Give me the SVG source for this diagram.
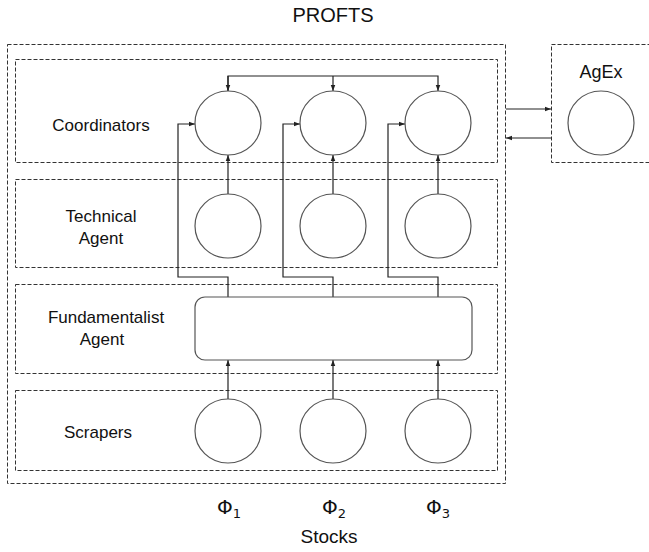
<svg xmlns="http://www.w3.org/2000/svg" width="649" height="552" viewBox="0 0 649 552">
  <style>
    .frame { fill: none; stroke: #333; stroke-width: 1; stroke-dasharray: 4 2; }
    .node { fill: #fff; stroke: #555; stroke-width: 1.2; }
    .wire { fill: none; stroke: #222; stroke-width: 1.2; }
    .lbl { font-family: "Liberation Sans", Arial, sans-serif; font-size: 17px; fill: #111; text-anchor: middle; }
    .title { font-size: 20px; }
    .phi { font-family: "DejaVu Sans", "Liberation Sans", sans-serif; font-size: 20px; }
  </style>
  <defs>
    <marker id="arrow" viewBox="0 0 8 8" refX="8" refY="4" markerWidth="6" markerHeight="6" orient="auto" markerUnits="userSpaceOnUse">
      <path d="M0,1 L8,4 L0,7 z" fill="#222"/>
    </marker>
  </defs>
  <rect width="649" height="552" fill="#fff"/>

  <!-- system frame and layer bands -->
  <g id="frames">
    <rect class="frame" x="7.5" y="44.5" width="498" height="439"/>
    <rect class="frame" x="15.5" y="59.5" width="482" height="103"/>
    <rect class="frame" x="15.5" y="179.5" width="482" height="88"/>
    <rect class="frame" x="15.5" y="284.5" width="482" height="89"/>
    <rect class="frame" x="15.5" y="390.5" width="482" height="80"/>
    <rect class="frame" x="551.5" y="44.5" width="110" height="118"/>
  </g>

  <g id="labels">
    <text class="lbl title" x="333" y="22">PROFTS</text>
    <text class="lbl" x="101" y="131">Coordinators</text>
    <text class="lbl" x="101" y="222">Technical</text>
    <text class="lbl" x="101" y="244">Agent</text>
    <text class="lbl" x="106" y="323">Fundamentalist</text>
    <text class="lbl" x="102" y="345">Agent</text>
    <text class="lbl" x="98" y="438">Scrapers</text>
    <text class="lbl" x="601" y="78" style="font-size:18px">AgEx</text>
    <text class="lbl" x="329" y="543" style="font-size:19px">Stocks</text>
  </g>

  <g id="stocks">
    <text class="lbl phi" x="229" y="514">Φ<tspan font-size="13" dy="4">1</tspan></text>
    <text class="lbl phi" x="334" y="514">Φ<tspan font-size="13" dy="4">2</tspan></text>
    <text class="lbl phi" x="438" y="514">Φ<tspan font-size="13" dy="4">3</tspan></text>
  </g>

  <g id="connectors">
    <!-- coordinator bus -->
    <path class="wire" d="M228,91 V76 H438 V91" marker-end="url(#arrow)"/>
    <path class="wire" d="M228,76 V91" marker-end="url(#arrow)"/>
    <path class="wire" d="M333,76 V91" marker-end="url(#arrow)"/>
    <!-- technical to coordinators -->
    <path class="wire" d="M228,194 V155" marker-end="url(#arrow)"/>
    <path class="wire" d="M333,194 V155" marker-end="url(#arrow)"/>
    <path class="wire" d="M438,194 V155" marker-end="url(#arrow)"/>
    <!-- fundamentalist to coordinators -->
    <path class="wire" d="M228,297 V277 H178 V124 H195" marker-end="url(#arrow)"/>
    <path class="wire" d="M333,297 V277 H283 V124 H300" marker-end="url(#arrow)"/>
    <path class="wire" d="M438,297 V277 H388 V124 H405" marker-end="url(#arrow)"/>
    <!-- scrapers to fundamentalist -->
    <path class="wire" d="M228,399 V360" marker-end="url(#arrow)"/>
    <path class="wire" d="M333,399 V360" marker-end="url(#arrow)"/>
    <path class="wire" d="M438,399 V360" marker-end="url(#arrow)"/>
    <!-- exchange with AgEx -->
    <path class="wire" d="M506,109 H551" marker-end="url(#arrow)"/>
    <path class="wire" d="M551,138 H506" marker-end="url(#arrow)"/>
  </g>

  <g id="coord1"><ellipse class="node" cx="228" cy="123" rx="33" ry="32"/></g>
  <g id="coord2"><ellipse class="node" cx="333" cy="123" rx="33" ry="32"/></g>
  <g id="coord3"><ellipse class="node" cx="438" cy="123" rx="33" ry="32"/></g>
  <g id="tech1"><ellipse class="node" cx="228" cy="226" rx="33" ry="32"/></g>
  <g id="tech2"><ellipse class="node" cx="333" cy="226" rx="33" ry="32"/></g>
  <g id="tech3"><ellipse class="node" cx="438" cy="226" rx="33" ry="32"/></g>
  <g id="fundamentalist"><rect class="node" x="195" y="297" width="277" height="63" rx="10" ry="10"/></g>
  <g id="scraper1"><ellipse class="node" cx="228" cy="431" rx="33" ry="32"/></g>
  <g id="scraper2"><ellipse class="node" cx="333" cy="431" rx="33" ry="32"/></g>
  <g id="scraper3"><ellipse class="node" cx="438" cy="431" rx="33" ry="32"/></g>
  <g id="agex"><ellipse class="node" cx="601" cy="123" rx="33" ry="32"/></g>
</svg>
